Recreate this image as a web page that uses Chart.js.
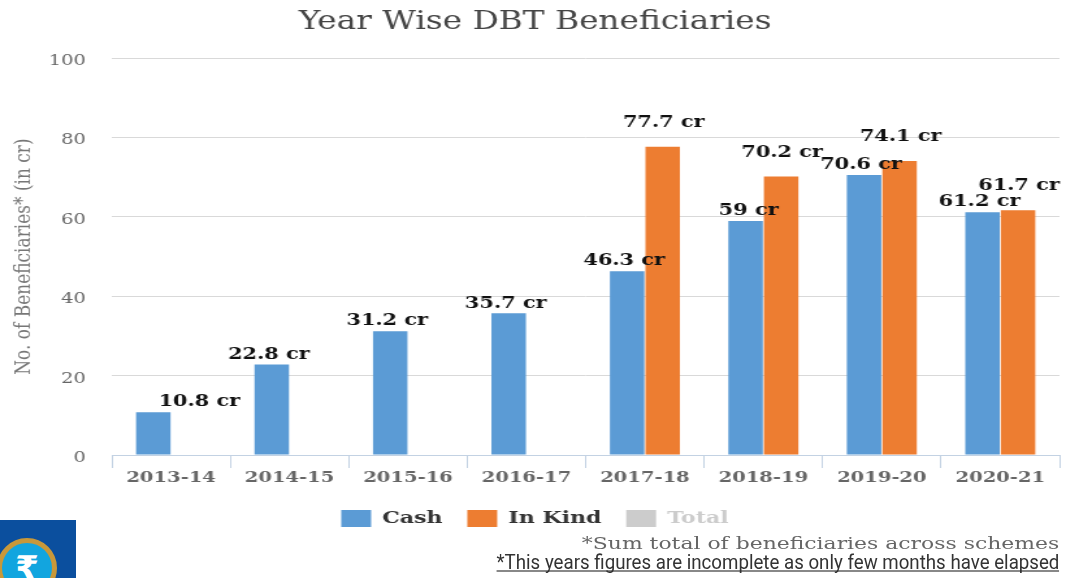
<!DOCTYPE html>
<html>
<head>
<meta charset="utf-8">
<script src="https://cdn.jsdelivr.net/npm/chart.js@4"></script>
<style>
html,body{margin:0;padding:0;background:#fff;overflow:hidden}
#stage{position:relative;width:1076px;height:578px;overflow:hidden}
#c{position:absolute;left:0;top:0;transform-origin:0 0;transform:scaleX(1.3)}
.note1{position:absolute;right:17px;top:533px;font:16.85px "DejaVu Serif";color:#666;white-space:nowrap;transform-origin:100% 0;transform:scaleX(1.3)}
.note2{position:absolute;right:17px;top:555px;font:21px Roboto;color:#333;white-space:nowrap;transform-origin:100% 0;transform:scaleX(.89);border-bottom:2px solid #888;line-height:15px}
.logo{position:absolute;left:0;top:520px;width:76px;height:58px;background:#0b4f9e;overflow:hidden}
.ring{position:absolute;left:-3px;top:18px;width:50px;height:50px;border-radius:50%;background:#12a5df;border:5px solid #c8983a;color:#fff;font:bold 34px/50px "DejaVu Sans";text-align:center}
</style>
</head>
<body>
<div id="stage">
<canvas id="c" width="828" height="578" style="width:828px;height:578px"></canvas>
<div class="note1">*Sum total of beneficiaries across schemes</div>
<div class="note2">*This years figures are incomplete as only few months have elapsed</div>
<div class="logo"><div class="ring">₹</div></div>
</div>
<script>
const categories = ["2013-14","2014-15","2015-16","2016-17","2017-18","2018-19","2019-20","2020-21"];
const cashValues = [10.8,22.8,31.2,35.7,46.3,59,70.6,61.2];
const inKindValues = [null,null,null,null,77.7,70.2,74.1,61.7];
const totalValues = [];
const yTicks = [0,20,40,60,80,100];

const SERIF = '"DejaVu Serif"';
const stretch = 1.3;

const labelPlugin = {
  id: 'valueLabels',
  afterDatasetsDraw(chart) {
    const ctx = chart.ctx;
    ctx.save();
    ctx.font = 'bold 16px ' + SERIF;
    ctx.fillStyle = '#111';
    ctx.textAlign = 'center';
    ctx.textBaseline = 'middle';
    [0, 1].forEach(di => {
      const ds = chart.data.datasets[di];
      chart.getDatasetMeta(di).data.forEach((bar, i) => {
        const v = ds.data[i];
        if (v === null || v === undefined) return;
        let dx = di === 0 ? -3 / stretch : 1 / stretch;
        if (di === 0 && i === 0) dx = 46 / stretch;
        if (di === 0 && i === 5) dx = 3 / stretch;
        const dy = di === 0 ? 10 : 24;
        ctx.fillText(v + ' cr', bar.x + dx, bar.y - dy);
      });
    });
    ctx.restore();
  }
};

new Chart(document.getElementById('c'), {
  type: 'bar',
  data: {
    labels: categories,
    datasets: [
      {label:'Cash', data:cashValues, backgroundColor:'#5b9bd5', barPercentage:.97, categoryPercentage:.6},
      {label:'In Kind', data:inKindValues, backgroundColor:'#ed7d31', barPercentage:.97, categoryPercentage:.6},
      {label:'Total', data:totalValues, backgroundColor:'#cccccc', hidden:true, barPercentage:.97, categoryPercentage:.6}
    ]
  },
  options: {
    responsive:false,
    animation:false,
    layout:{padding:{left:8,right:13,top:0,bottom:41}},
    plugins:{
      tooltip:{enabled:false},
      title:{display:true,text:'Year Wise DBT Beneficiaries',color:'#444',font:{family:SERIF,size:25.2,weight:'normal'},padding:{top:7,bottom:21}},
      legend:{
        display:true,position:'bottom',
        labels:{
          boxWidth:23,boxHeight:17,padding:19,font:{family:SERIF,size:17,weight:'bold'},
          generateLabels(chart){
            return chart.data.datasets.map((d,i)=>({
              text:d.label,fillStyle:d.backgroundColor,strokeStyle:d.backgroundColor,lineWidth:0,
              hidden:false,datasetIndex:i,fontColor:d.hidden?'#cccccc':'#333333'
            }));
          }
        }
      }
    },
    scales:{
      x:{
        afterFit(s){s.height+=3;},
        grid:{drawOnChartArea:false,color:'#c3d2e3',tickLength:13,tickWidth:1},
        border:{color:'#c3d2e3'},
        ticks:{color:'#666',font:{family:SERIF,size:15,weight:'bold'},maxRotation:0,padding:1}
      },
      y:{
        min:0,max:100,
        afterBuildTicks(s){s.ticks=yTicks.map(v=>({value:v}));},
        grid:{color:'#d9d9d9',drawTicks:false},
        border:{display:false},
        ticks:{color:'#666',font:{family:SERIF,size:15},padding:20,labelOffset:3},
        title:{display:true,text:'No. of Beneficiaries* (in cr)',color:'#777',font:{family:SERIF,size:17},padding:{top:0,bottom:-11}}
      }
    }
  },
  plugins:[labelPlugin]
});
</script>
</body>
</html>
